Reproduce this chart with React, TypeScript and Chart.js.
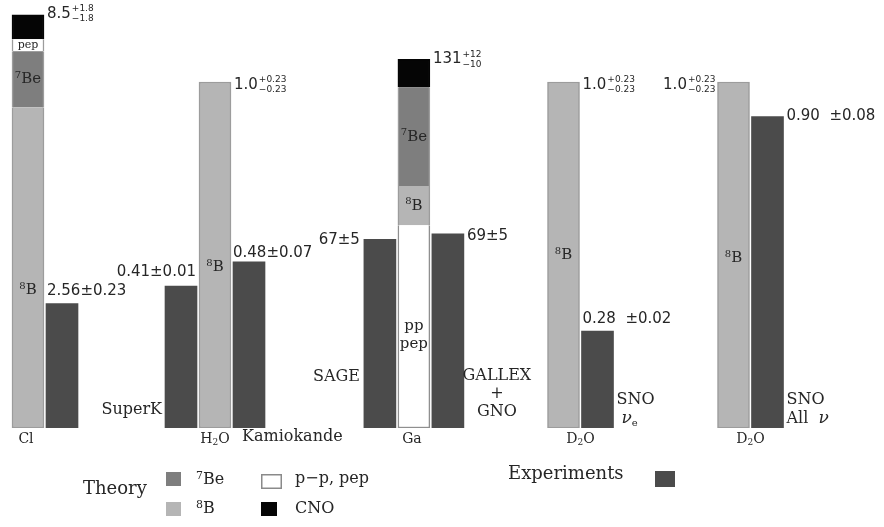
import { useEffect, useRef } from "react";
import { Chart, registerables } from "chart.js";

Chart.register(...registerables);

const W = 884;
const H = 527;
const BAR = 32;

// Column slots along the horizontal axis (one unit = one bar plus gap)
const clSlots = [0, 1]; // theory, Homestake
const h2oSlots = [4.5, 5.5, 6.5]; // SuperK, theory, Kamiokande
const gaSlots = [10.35, 11.35, 12.35]; // SAGE, theory, GALLEX + GNO
const d2oSlots = [15.75, 16.75, 20.75, 21.75]; // theory, SNO νe, theory, SNO all ν

// Chlorine prediction by neutrino source (SNU)
const clB8 = [6.6];
const clBe7 = [1.15];
const clPep = [0.25];
const clCno = [0.5];
const clMeasured = [2.56];

// Gallium prediction by neutrino source (SNU)
const gaPp = [72];
const gaB8 = [14];
const gaBe7 = [35];
const gaCno = [10];
const gaMeasured = [67, 69]; // SAGE, GALLEX + GNO

// Water / heavy water, as a fraction of the predicted 8B flux
const ratioTheory = [1.0, 1.0, 1.0]; // H2O, D2O, D2O
const ratioMeasured = [0.41, 0.48, 0.28, 0.9]; // SuperK, Kamiokande, SNO νe, SNO all ν

const C_EXP = "#4b4b4b";
const C_BE7 = "#7e7e7e";
const C_B8 = "#b5b5b5";
const C_PP = "#ffffff";
const C_CNO = "#050505";
const C_EDGE = "#9c9c9c";
const C_TEXT = "#262626";

const SERIF = '"DejaVu Serif", serif';
const SANS = '"DejaVu Sans", sans-serif';

const pts = (slots: number[], values: number[]) =>
  values.map((v, i) => ({ x: slots[i], y: v }));

const sum = (a: number[]) => a.reduce((s, v) => s + v, 0);

type Run = { t: string; f: string; dy?: number };

function drawRuns(
  ctx: CanvasRenderingContext2D,
  runs: Run[],
  x: number,
  y: number,
  align: "left" | "center" | "right" = "left"
) {
  const widths = runs.map((r) => {
    ctx.font = r.f;
    return ctx.measureText(r.t).width;
  });
  const total = widths.reduce((s, w) => s + w, 0);
  let cx = align === "left" ? x : align === "center" ? x - total / 2 : x - total;
  ctx.textAlign = "left";
  ctx.textBaseline = "middle";
  runs.forEach((r, i) => {
    ctx.font = r.f;
    ctx.fillText(r.t, cx, y + (r.dy || 0));
    cx += widths[i];
  });
}

function drawPm(
  ctx: CanvasRenderingContext2D,
  x: number,
  y: number,
  main: string,
  up: string,
  down: string,
  align: "left" | "right"
) {
  const big = `15px ${SANS}`;
  const small = `9px ${SANS}`;
  ctx.font = big;
  const mw = ctx.measureText(main).width;
  ctx.font = small;
  const sw = Math.max(ctx.measureText(up).width, ctx.measureText(down).width);
  const x0 = align === "left" ? x : x - mw - 1 - sw;
  ctx.textAlign = "left";
  ctx.textBaseline = "middle";
  ctx.font = big;
  ctx.fillText(main, x0, y);
  ctx.font = small;
  ctx.fillText(up, x0 + mw + 1, y - 5);
  ctx.fillText(down, x0 + mw + 1, y + 5);
}

const labelsPlugin = {
  id: "solarLabels",
  afterDatasetsDraw(chart: any) {
    const ctx: CanvasRenderingContext2D = chart.ctx;
    const sx = chart.scales.x;
    const X = (s: number) => sx.getPixelForValue(s);
    const Y = (axis: string, v: number) => chart.scales[axis].getPixelForValue(v);
    const base = Y("yRatio", 0);
    const half = BAR / 2;
    const num = `15px ${SANS}`;
    const name = `16px ${SERIF}`;
    const inBar = `15px ${SERIF}`;
    const supF = `10px ${SERIF}`;

    ctx.save();
    ctx.fillStyle = C_TEXT;

    // ---- labels inside the theory columns
    const segLabel = (slot: number, axis: string, lo: number, hi: number, f: number, runs: Run[]) =>
      drawRuns(ctx, runs, X(slot), Y(axis, lo + (hi - lo) * f), "center");
    const b8 = (): Run[] => [
      { t: "8", f: supF, dy: -4 },
      { t: "B", f: inBar },
    ];
    const be7 = (): Run[] => [
      { t: "7", f: supF, dy: -4 },
      { t: "Be", f: inBar },
    ];

    const cl1 = clB8[0];
    const cl2 = cl1 + clBe7[0];
    const cl3 = cl2 + clPep[0];
    segLabel(clSlots[0], "yCl", 0, cl1, 0.43, b8());
    segLabel(clSlots[0], "yCl", cl1, cl2, 0.5, be7());
    segLabel(clSlots[0], "yCl", cl2, cl3, 0.5, [{ t: "pep", f: `11px ${SERIF}` }]);

    segLabel(h2oSlots[1], "yRatio", 0, ratioTheory[0], 0.465, b8());
    segLabel(d2oSlots[0], "yRatio", 0, ratioTheory[1], 0.5, b8());
    segLabel(d2oSlots[2], "yRatio", 0, ratioTheory[2], 0.49, b8());

    const ga1 = gaPp[0];
    const ga2 = ga1 + gaB8[0];
    const ga3 = ga2 + gaBe7[0];
    const ppY = Y("yGa", ga1 * 0.46);
    drawRuns(ctx, [{ t: "pp", f: inBar }], X(gaSlots[1]), ppY - 9, "center");
    drawRuns(ctx, [{ t: "pep", f: inBar }], X(gaSlots[1]), ppY + 9, "center");
    segLabel(gaSlots[1], "yGa", ga1, ga2, 0.5, b8());
    segLabel(gaSlots[1], "yGa", ga2, ga3, 0.5, be7());

    // ---- values above / beside the columns
    const clTop = Y("yCl", sum([clB8[0], clBe7[0], clPep[0], clCno[0]]));
    drawPm(ctx, X(clSlots[0]) + half + 3, clTop - 1, "8.5", "+1.8", "−1.8", "left");
    drawRuns(ctx, [{ t: "2.56±0.23", f: num }], X(clSlots[1]) - half + 1, Y("yCl", clMeasured[0]) - 12);

    drawPm(ctx, X(h2oSlots[1]) + half + 3, Y("yRatio", ratioTheory[0]) + 3, "1.0", "+0.23", "−0.23", "left");
    drawRuns(ctx, [{ t: "0.41±0.01", f: num }], X(h2oSlots[0]) + half - 1, Y("yRatio", ratioMeasured[0]) - 14, "right");
    drawRuns(ctx, [{ t: "0.48±0.07", f: num }], X(h2oSlots[2]) - half, Y("yRatio", ratioMeasured[1]) - 9);

    const gaTop = Y("yGa", sum([gaPp[0], gaB8[0], gaBe7[0], gaCno[0]]));
    drawPm(ctx, X(gaSlots[1]) + half + 3, gaTop, "131", "+12", "−10", "left");
    drawRuns(ctx, [{ t: "67±5", f: num }], X(gaSlots[0]) - half - 4, Y("yGa", gaMeasured[0]) + 1, "right");
    drawRuns(ctx, [{ t: "69±5", f: num }], X(gaSlots[2]) + half + 3, Y("yGa", gaMeasured[1]) + 2);

    drawPm(ctx, X(d2oSlots[0]) + half + 3, Y("yRatio", ratioTheory[1]) + 3, "1.0", "+0.23", "−0.23", "left");
    drawRuns(ctx, [{ t: "0.28  ±0.02", f: num }], X(d2oSlots[1]) - half + 1, Y("yRatio", ratioMeasured[2]) - 12);
    drawPm(ctx, X(d2oSlots[2]) - half - 2, Y("yRatio", ratioTheory[2]) + 3, "1.0", "+0.23", "−0.23", "right");
    drawRuns(ctx, [{ t: "0.90  ±0.08", f: num }], X(d2oSlots[3]) + half + 3, Y("yRatio", ratioMeasured[3]));

    // ---- experiment names
    drawRuns(ctx, [{ t: "SuperK", f: name }], X(h2oSlots[0]) - half - 3, base - 18, "right");
    drawRuns(ctx, [{ t: "Kamiokande", f: name }], X(h2oSlots[2]) - half + 9, base + 9);
    drawRuns(ctx, [{ t: "SAGE", f: name }], X(gaSlots[0]) - half - 4, base - 51, "right");
    const gx = X(gaSlots[2]) + half + 33;
    drawRuns(ctx, [{ t: "GALLEX", f: name }], gx, base - 52, "center");
    drawRuns(ctx, [{ t: "+", f: name }], gx, base - 34, "center");
    drawRuns(ctx, [{ t: "GNO", f: name }], gx, base - 16, "center");
    const s1 = X(d2oSlots[1]) + half + 3;
    drawRuns(ctx, [{ t: "SNO", f: name }], s1, base - 28);
    drawRuns(ctx, [
      { t: "ν", f: `italic 17px ${SERIF}` },
      { t: "e", f: `10px ${SERIF}`, dy: 4 },
    ], s1 + 5, base - 9);
    const s2 = X(d2oSlots[3]) + half + 3;
    drawRuns(ctx, [{ t: "SNO", f: name }], s2, base - 28);
    drawRuns(ctx, [
      { t: "All  ", f: name },
      { t: "ν", f: `italic 17px ${SERIF}` },
    ], s2, base - 9);

    // ---- target labels under the columns
    const tgt = `14px ${SERIF}`;
    const sub = `9px ${SERIF}`;
    const ty = base + 11;
    drawRuns(ctx, [{ t: "Cl", f: tgt }], X(clSlots[0]) - 2, ty, "center");
    drawRuns(ctx, [
      { t: "H", f: tgt },
      { t: "2", f: sub, dy: 4 },
      { t: "O", f: tgt },
    ], X(h2oSlots[1]), ty, "center");
    drawRuns(ctx, [{ t: "Ga", f: tgt }], X(gaSlots[1]) - 2, ty, "center");
    const d2o = (cx: number) =>
      drawRuns(ctx, [
        { t: "D", f: tgt },
        { t: "2", f: sub, dy: 4 },
        { t: "O", f: tgt },
      ], cx, ty, "center");
    d2o((X(d2oSlots[0]) + X(d2oSlots[1])) / 2);
    d2o((X(d2oSlots[2]) + X(d2oSlots[3])) / 2);

    // ---- key
    const head = `18px ${SERIF}`;
    const key = `16px ${SERIF}`;
    const swatch = (x: number, y: number, w: number, h: number, c: string, edge?: string) => {
      ctx.fillStyle = c;
      ctx.fillRect(x, y, w, h);
      if (edge) {
        ctx.strokeStyle = edge;
        ctx.lineWidth = 1.5;
        ctx.strokeRect(x + 0.75, y + 0.75, w - 1.5, h - 1.5);
      }
      ctx.fillStyle = C_TEXT;
    };
    drawRuns(ctx, [{ t: "Theory", f: head }], 83, 489);
    swatch(166, 472, 15, 14, C_BE7);
    drawRuns(ctx, [
      { t: "7", f: `11px ${SERIF}`, dy: -4 },
      { t: "Be", f: key },
    ], 196, 480);
    swatch(166, 502, 15, 14, C_B8);
    drawRuns(ctx, [
      { t: "8", f: `11px ${SERIF}`, dy: -4 },
      { t: "B", f: key },
    ], 196, 509);
    swatch(261, 474, 21, 15, C_PP, "#8a8a8a");
    drawRuns(ctx, [{ t: "p−p, pep", f: key }], 295, 479);
    swatch(261, 502, 16, 14, C_CNO);
    drawRuns(ctx, [{ t: "CNO", f: key }], 295, 509);
    drawRuns(ctx, [{ t: "Experiments", f: head }], 508, 474);
    swatch(655, 471, 20, 16, C_EXP);

    ctx.restore();
  },
};

export default function App() {
  const ref = useRef<HTMLCanvasElement | null>(null);

  useEffect(() => {
    if (!ref.current) return;
    const edge = C_EDGE;
    const side = (top: boolean, bottom: boolean) => ({
      left: 1.5,
      right: 1.5,
      top: top ? 1.5 : 0,
      bottom: bottom ? 1.5 : 0,
    });
    const theory = (
      label: string,
      axis: string,
      data: { x: number; y: number }[],
      color: string,
      top: boolean,
      bottom: boolean,
      border = edge
    ) => ({
      label,
      yAxisID: axis,
      data,
      backgroundColor: color,
      borderColor: border,
      borderWidth: side(top, bottom),
      borderSkipped: false,
      stack: "col",
    });
    const measured = (label: string, axis: string, data: { x: number; y: number }[]) => ({
      label,
      yAxisID: axis,
      data,
      backgroundColor: C_EXP,
      borderColor: C_EXP,
      borderWidth: 0,
      stack: "col",
    });

    const allSlots = [...clSlots, ...h2oSlots, ...gaSlots, ...d2oSlots];

    const chart = new Chart(ref.current, {
      type: "bar",
      data: {
        datasets: [
          // Chlorine, stacked 8B → 7Be → pep → CNO
          theory("8B", "yCl", pts([clSlots[0]], clB8), C_B8, false, true),
          theory("7Be", "yCl", pts([clSlots[0]], clBe7), C_BE7, false, false),
          theory("pep", "yCl", pts([clSlots[0]], clPep), C_PP, false, false),
          theory("CNO", "yCl", pts([clSlots[0]], clCno), C_CNO, true, false, C_CNO),
          measured("Homestake", "yCl", pts([clSlots[1]], clMeasured)),
          // Gallium, stacked pp+pep → 8B → 7Be → CNO
          theory("pp, pep", "yGa", pts([gaSlots[1]], gaPp), C_PP, false, true, "#8f8f8f"),
          theory("8B", "yGa", pts([gaSlots[1]], gaB8), C_B8, false, false),
          theory("7Be", "yGa", pts([gaSlots[1]], gaBe7), C_BE7, false, false),
          theory("CNO", "yGa", pts([gaSlots[1]], gaCno), C_CNO, true, false, C_CNO),
          measured("SAGE, GALLEX+GNO", "yGa", pts([gaSlots[0], gaSlots[2]], gaMeasured)),
          // Water Cherenkov and SNO
          theory("8B", "yRatio", pts([h2oSlots[1], d2oSlots[0], d2oSlots[2]], ratioTheory), C_B8, true, true),
          measured(
            "SuperK, Kamiokande, SNO",
            "yRatio",
            pts([h2oSlots[0], h2oSlots[2], d2oSlots[1], d2oSlots[3]], ratioMeasured)
          ),
        ] as any,
      },
      options: {
        animation: false,
        responsive: false,
        events: [],
        layout: { padding: { left: 11, right: 6, top: 10, bottom: 99 } },
        datasets: { bar: { barThickness: BAR, grouped: true } } as any,
        plugins: {
          legend: { display: false },
          tooltip: { enabled: false },
        },
        scales: {
          x: {
            type: "linear",
            min: -0.5,
            max: 25,
            offset: false,
            display: false,
            stacked: true,
            afterBuildTicks: (scale: any) => {
              scale.ticks = allSlots.map((v) => ({ value: v }));
            },
          },
          yRatio: { type: "linear", min: 0, max: 1.208, display: false, stacked: true },
          yCl: { type: "linear", min: 0, max: 8.6, display: false, stacked: true },
          yGa: { type: "linear", min: 0, max: 148.5, display: false, stacked: true },
        } as any,
      },
      plugins: [labelsPlugin],
    });
    return () => chart.destroy();
  }, []);

  return (
    <div style={{ position: "absolute", left: 0, top: 0, width: W, height: H, background: "#fff" }}>
      <canvas ref={ref} width={W} height={H} />
    </div>
  );
}
